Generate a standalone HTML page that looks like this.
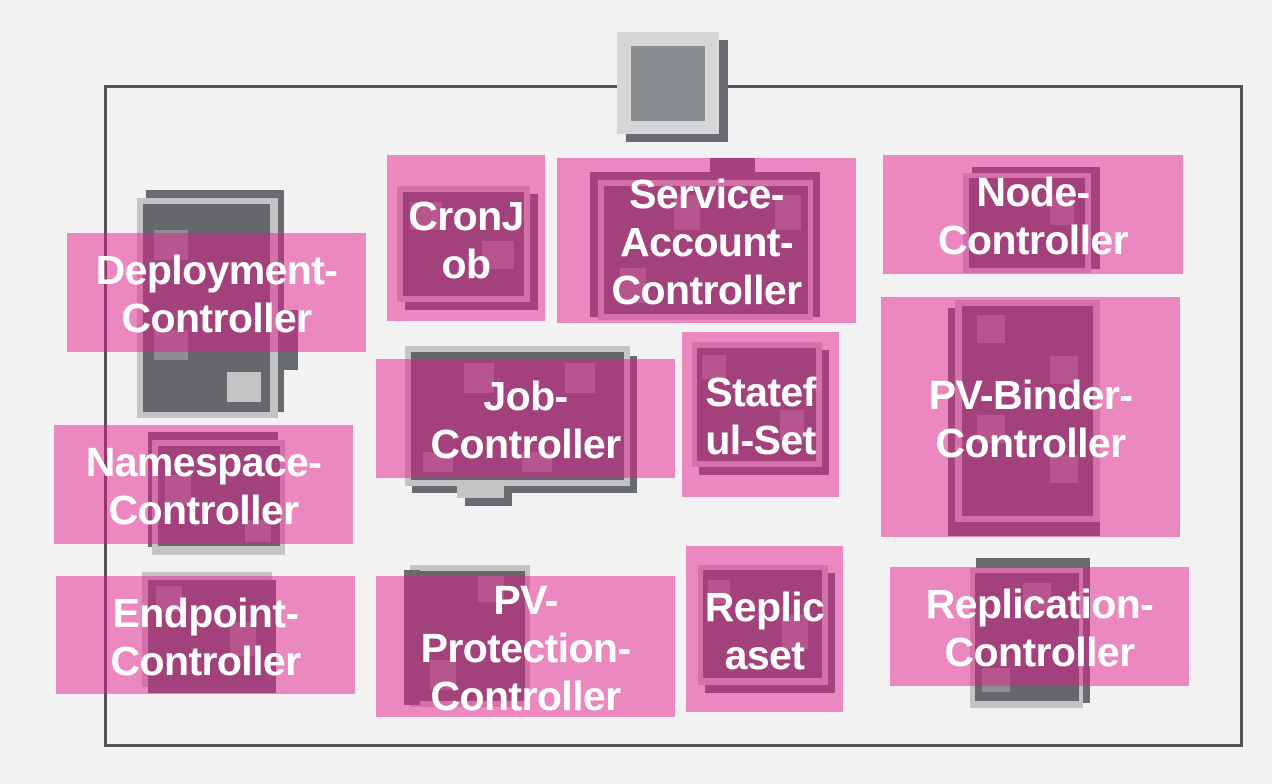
<!DOCTYPE html>
<html><head><meta charset="utf-8"><style>
*{margin:0;padding:0;box-sizing:border-box}
body{width:1272px;height:784px;background:#f2f2f2;position:relative;overflow:hidden;font-family:"Liberation Sans",sans-serif}
.a{position:absolute}
.sh{background:#686b70}
.lt{background:#c4c4c4}
.in{background:#65676c}
.sq{background:#8c8e92}
.pk{position:absolute;background:rgba(226,26,138,0.49);display:flex;align-items:center;justify-content:center;text-align:center;color:#fff;font-weight:bold;font-size:41px;line-height:48px;letter-spacing:-0.6px;padding-top:3px}
</style></head><body>
<div class="a" style="left:104px;top:85px;width:1139px;height:662px;border:3px solid #505254"></div>
<div class="a sh" style="left:626px;top:40px;width:102px;height:102px"></div>
<div class="a" style="left:617px;top:32px;width:102px;height:102px;background:#d6d6d6"></div>
<div class="a" style="left:631px;top:46px;width:74px;height:75px;background:#8b8e91"></div>

<div class="a sh" style="left:146px;top:190px;width:138px;height:222px"></div>
<div class="a sh" style="left:270px;top:310px;width:28px;height:60px"></div>
<div class="a lt" style="left:137px;top:198px;width:141px;height:220px"></div>
<div class="a in" style="left:143px;top:204px;width:127px;height:208px"></div>
<div class="a sq" style="left:154px;top:230px;width:34px;height:30px"></div>
<div class="a sq" style="left:154px;top:330px;width:34px;height:30px"></div>
<div class="a lt" style="left:227px;top:372px;width:34px;height:30px"></div>

<div class="a sh" style="left:405px;top:194px;width:133px;height:116px"></div>
<div class="a lt" style="left:397px;top:186px;width:133px;height:116px"></div>
<div class="a in" style="left:403px;top:192px;width:121px;height:104px"></div>
<div class="a sq" style="left:410px;top:202px;width:32px;height:28px"></div>
<div class="a sq" style="left:482px;top:241px;width:32px;height:28px"></div>

<div class="a sh" style="left:590px;top:172px;width:230px;height:145px"></div>
<div class="a sh" style="left:710px;top:158px;width:45px;height:20px"></div>
<div class="a lt" style="left:598px;top:180px;width:215px;height:140px"></div>
<div class="a in" style="left:604px;top:186px;width:204px;height:128px"></div>
<div class="a sq" style="left:674px;top:195px;width:26px;height:35px"></div>
<div class="a sq" style="left:775px;top:195px;width:26px;height:35px"></div>
<div class="a sq" style="left:620px;top:268px;width:26px;height:35px"></div>

<div class="a sh" style="left:972px;top:167px;width:128px;height:102px"></div>
<div class="a lt" style="left:963px;top:173px;width:128px;height:100px"></div>
<div class="a in" style="left:969px;top:178px;width:116px;height:90px"></div>
<div class="a sq" style="left:1050px;top:195px;width:24px;height:30px"></div>

<div class="a sh" style="left:948px;top:308px;width:152px;height:228px"></div>
<div class="a lt" style="left:955px;top:300px;width:145px;height:222px"></div>
<div class="a in" style="left:962px;top:306px;width:131px;height:210px"></div>
<div class="a sq" style="left:977px;top:315px;width:28px;height:28px"></div>
<div class="a sq" style="left:1050px;top:356px;width:28px;height:28px"></div>
<div class="a sq" style="left:977px;top:415px;width:28px;height:28px"></div>
<div class="a sq" style="left:1050px;top:455px;width:28px;height:28px"></div>

<div class="a sh" style="left:412px;top:356px;width:225px;height:137px"></div>
<div class="a sh" style="left:465px;top:488px;width:47px;height:18px"></div>
<div class="a lt" style="left:457px;top:484px;width:47px;height:14px"></div>
<div class="a lt" style="left:405px;top:346px;width:225px;height:140px"></div>
<div class="a in" style="left:411px;top:352px;width:213px;height:128px"></div>
<div class="a sq" style="left:464px;top:363px;width:30px;height:30px"></div>
<div class="a sq" style="left:565px;top:363px;width:30px;height:30px"></div>
<div class="a sq" style="left:423px;top:452px;width:30px;height:20px"></div>
<div class="a sq" style="left:522px;top:452px;width:30px;height:20px"></div>

<div class="a sh" style="left:699px;top:350px;width:130px;height:125px"></div>
<div class="a lt" style="left:692px;top:342px;width:130px;height:125px"></div>
<div class="a in" style="left:697px;top:348px;width:119px;height:113px"></div>
<div class="a sq" style="left:702px;top:355px;width:24px;height:24px"></div>
<div class="a sq" style="left:780px;top:410px;width:24px;height:30px"></div>

<div class="a sh" style="left:148px;top:432px;width:130px;height:115px"></div>
<div class="a lt" style="left:152px;top:440px;width:133px;height:115px"></div>
<div class="a in" style="left:158px;top:446px;width:122px;height:100px"></div>
<div class="a sq" style="left:165px;top:475px;width:26px;height:30px"></div>
<div class="a sq" style="left:245px;top:520px;width:26px;height:22px"></div>

<div class="a lt" style="left:142px;top:572px;width:130px;height:115px"></div>
<div class="a sh" style="left:148px;top:580px;width:128px;height:113px"></div>
<div class="a in" style="left:148px;top:580px;width:118px;height:100px"></div>
<div class="a sq" style="left:156px;top:586px;width:26px;height:26px"></div>
<div class="a sq" style="left:230px;top:622px;width:26px;height:34px"></div>

<div class="a lt" style="left:410px;top:565px;width:120px;height:142px"></div>
<div class="a sh" style="left:404px;top:570px;width:16px;height:135px"></div>
<div class="a in" style="left:417px;top:571px;width:108px;height:130px"></div>
<div class="a sq" style="left:478px;top:576px;width:26px;height:26px"></div>
<div class="a sq" style="left:430px;top:660px;width:26px;height:30px"></div>

<div class="a sh" style="left:705px;top:573px;width:130px;height:120px"></div>
<div class="a lt" style="left:698px;top:565px;width:130px;height:120px"></div>
<div class="a in" style="left:703px;top:570px;width:119px;height:108px"></div>
<div class="a sq" style="left:708px;top:580px;width:22px;height:24px"></div>
<div class="a sq" style="left:782px;top:615px;width:26px;height:34px"></div>

<div class="a sh" style="left:976px;top:558px;width:114px;height:145px"></div>
<div class="a lt" style="left:970px;top:568px;width:113px;height:140px"></div>
<div class="a in" style="left:975px;top:573px;width:104px;height:128px"></div>
<div class="a sq" style="left:1023px;top:583px;width:28px;height:28px"></div>
<div class="a sq" style="left:982px;top:668px;width:28px;height:24px"></div>

<div class="pk" style="left:67px;top:233px;width:299px;height:119px">Deployment-<br>Controller</div>
<div class="pk" style="left:387px;top:155px;width:158px;height:166px">CronJ<br>ob</div>
<div class="pk" style="left:557px;top:158px;width:299px;height:165px">Service-<br>Account-<br>Controller</div>
<div class="pk" style="left:883px;top:155px;width:300px;height:119px">Node-<br>Controller</div>
<div class="pk" style="left:881px;top:297px;width:299px;height:240px">PV-Binder-<br>Controller</div>
<div class="pk" style="left:376px;top:359px;width:299px;height:119px">Job-<br>Controller</div>
<div class="pk" style="left:682px;top:332px;width:157px;height:165px">Statef<br>ul-Set</div>
<div class="pk" style="left:54px;top:425px;width:299px;height:119px">Namespace-<br>Controller</div>
<div class="pk" style="left:56px;top:576px;width:299px;height:118px">Endpoint-<br>Controller</div>
<div class="pk" style="left:376px;top:576px;width:299px;height:141px">PV-<br>Protection-<br>Controller</div>
<div class="pk" style="left:686px;top:546px;width:157px;height:166px">Replic<br>aset</div>
<div class="pk" style="left:890px;top:567px;width:299px;height:119px">Replication-<br>Controller</div>
</body></html>
